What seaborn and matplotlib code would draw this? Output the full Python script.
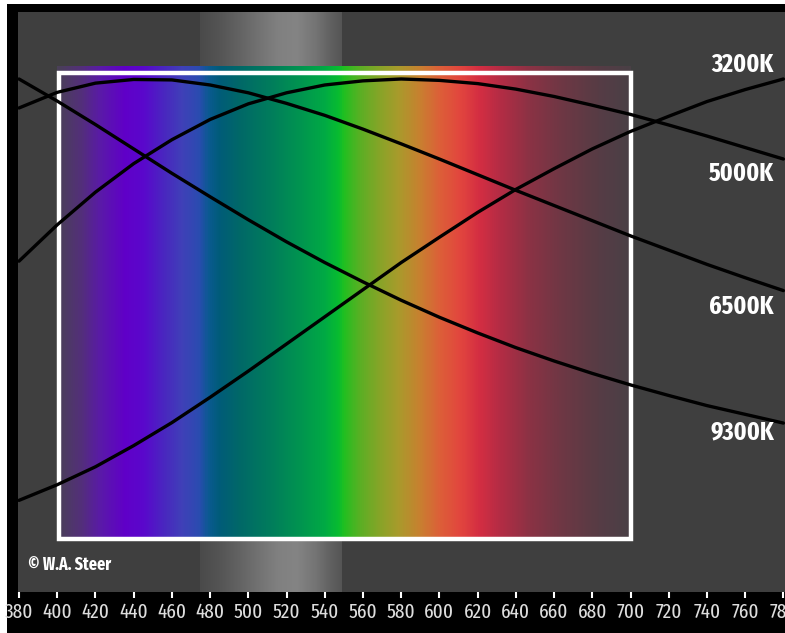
import numpy as np
import pandas as pd
import matplotlib
matplotlib.use("Agg")
import matplotlib.pyplot as plt
from matplotlib.colors import LinearSegmentedColormap
from matplotlib.patches import Rectangle
from matplotlib import font_manager
from matplotlib.font_manager import FontProperties
import seaborn as sns

# ---------------- data ----------------
wavelength_nm = [380, 400, 420, 440, 460, 480, 500, 520, 540, 560, 580,
                 600, 620, 640, 660, 680, 700, 720, 740, 760, 780]
k3200 = [0.084, 0.118, 0.157, 0.203, 0.253, 0.308, 0.365, 0.424, 0.483, 0.542, 0.601,
         0.656, 0.710, 0.760, 0.805, 0.848, 0.886, 0.919, 0.951, 0.977, 1.000]
k5000 = [0.604, 0.683, 0.754, 0.816, 0.868, 0.912, 0.946, 0.970, 0.987, 0.996, 1.000,
         0.997, 0.990, 0.978, 0.962, 0.943, 0.923, 0.900, 0.876, 0.851, 0.826]
k6500 = [0.937, 0.971, 0.991, 0.999, 0.998, 0.987, 0.970, 0.947, 0.921, 0.891, 0.859,
         0.826, 0.792, 0.758, 0.725, 0.692, 0.659, 0.628, 0.597, 0.568, 0.540]
k9300 = [1.000, 0.952, 0.901, 0.848, 0.795, 0.744, 0.694, 0.646, 0.601, 0.559, 0.519,
         0.482, 0.448, 0.416, 0.387, 0.360, 0.335, 0.312, 0.290, 0.271, 0.252]
curve_labels = ["3200K", "5000K", "6500K", "9300K"]
label_levels = [1.030, 0.793, 0.504, 0.233]
tick_values = list(range(380, 781, 20))
credit = "\u00a9 W.A. Steer"

# spectrum colour stops (nm, colour)
spectrum_nm = [400, 412, 422, 435, 445, 455, 465, 474, 479, 485, 495, 511, 527,
               540, 547, 550, 558, 569, 579, 590, 600, 611, 621, 632, 647, 663, 684, 700]
spectrum_hex = ["#4a4058", "#532f7a", "#5a1aa8", "#6000c8", "#5a08cc", "#4a25c0",
                "#4040b8", "#2a4cb0", "#0a5a90", "#005c78", "#006868", "#007c5c",
                "#009450", "#00aa44", "#08bc30", "#20c020", "#58b024", "#88a428",
                "#aa9a2c", "#c88030", "#dc6038", "#e2463e", "#d42e42", "#b42c45",
                "#8c3244", "#703744", "#563c45", "#4a4046"]
# grey band behind the spectrum
band_nm = [474.5, 485, 495, 505, 515, 525, 535, 543, 548.5]
band_hex = ["#4a4a4a", "#555555", "#636363", "#727272", "#808080",
            "#848484", "#747474", "#606060", "#555555"]

# ---------------- style ----------------
sns.set_style("dark", rc={"axes.facecolor": "#3f3f3f", "figure.facecolor": "white"})
plt.rcParams["font.family"] = ["Liberation Sans", "DejaVu Sans"]


def cond_score(f):
    nm = f.name.lower().replace(" ", "")
    st = str(f.stretch).lower()
    if "ultracondensed" in nm or "extracondensed" in nm or st in ("extra-condensed", "ultra-condensed"):
        return 3
    if "semicondensed" in nm or st == "semi-condensed":
        return 1
    if "condensed" in nm or "narrow" in nm or st == "condensed":
        return 2
    return 0


def find_font(bold, prefer):
    want = 700 if bold else 400
    best, best_rank = None, None
    for f in font_manager.fontManager.ttflist:
        nm = f.name.lower()
        if "mono" in nm or "serif" in nm.replace("sans serif", "") or f.style != "normal":
            continue
        w = f.weight
        if isinstance(w, str):
            w = {"bold": 700, "normal": 400, "regular": 400, "book": 400}.get(w.lower(), 500)
        if abs(int(w) - want) >= 100:
            continue
        s = cond_score(f)
        if s == 0:
            continue
        rank = prefer.index(s) if s in prefer else 9
        if best_rank is None or rank < best_rank:
            best, best_rank = f.fname, rank
    return best


tick_path = find_font(False, [3, 2, 1])
lab_path = find_font(True, [3, 2, 1])
fallback = ["Liberation Sans", "DejaVu Sans"]
tick_fp = FontProperties(fname=tick_path, size=15) if tick_path else \
    FontProperties(family=fallback, size=11)
lab_fp = FontProperties(fname=lab_path, size=18.5) if lab_path else \
    FontProperties(family=fallback, size=15, weight="bold")
cred_fp = FontProperties(fname=lab_path, size=12.5) if lab_path else \
    FontProperties(family=fallback, size=10, weight="bold")

W, H = 785, 633
fig = plt.figure(figsize=(W / 100, H / 100), dpi=100, facecolor="white")
fig.add_artist(Rectangle((7 / W, 0), 1, (H - 4) / H, transform=fig.transFigure,
                         facecolor="black", edgecolor="none", zorder=-10))
ax = fig.add_axes([18 / W, 41 / H, (W - 18) / W, 580 / H])
ax.set_facecolor("#3f3f3f")

ppn = 1.911  # pixels per nm
x0 = 380 + (18 - 19) / ppn
x1 = 380 + (785 - 19) / ppn
y0 = (539 - 592) / 460
y1 = (539 - 12) / 460


def stops(nm, hx):
    lo, hi = nm[0], nm[-1]
    return [((v - lo) / (hi - lo), c) for v, c in zip(nm, hx)]


# grey band
band_cmap = LinearSegmentedColormap.from_list("band", stops(band_nm, band_hex))
ax.imshow(np.linspace(0, 1, 400)[None, :], cmap=band_cmap, aspect="auto",
          extent=[band_nm[0], band_nm[-1], y0, y1], interpolation="bilinear", zorder=0.5)

# spectrum
spec_cmap = LinearSegmentedColormap.from_list("spec", stops(spectrum_nm, spectrum_hex))
ax.imshow(np.linspace(0, 1, 800)[None, :], cmap=spec_cmap, aspect="auto",
          extent=[spectrum_nm[0], spectrum_nm[-1], 0, 1.028], interpolation="bilinear", zorder=1)
ax.add_patch(Rectangle((401, 0), 299, 1.012, facecolor="none", edgecolor="white",
                       lw=3.2, zorder=3))

# curves
df = pd.DataFrame({
    "nm": wavelength_nm * 4,
    "value": k3200 + k5000 + k6500 + k9300,
    "curve": sum([[lab] * len(wavelength_nm) for lab in curve_labels], []),
})
sns.lineplot(data=df, x="nm", y="value", hue="curve", palette={l: "black" for l in curve_labels},
             legend=False, lw=2.4, ax=ax, zorder=5, estimator=None, sort=False)

for lab, lev in zip(curve_labels, label_levels):
    ax.text(380 + (774 - 19) / ppn, lev, lab, ha="right", va="center", color="white",
            fontproperties=lab_fp, zorder=6)
ax.text(380 + (28 - 19) / ppn, (539 - 565) / 460, credit, ha="left", va="center",
        color="white", fontproperties=cred_fp, zorder=6)

ax.set_xlim(x0, x1)
ax.set_ylim(y0, y1)
ax.set_xticks(tick_values)
ax.set_xticklabels([str(t) for t in tick_values])
for t in ax.get_xticklabels():
    t.set_fontproperties(tick_fp)
ax.set_yticks([])
ax.tick_params(axis="x", direction="out", length=4.5, width=1.5, color="white",
               labelcolor="#dddddd", pad=3, bottom=True)
ax.set_xlabel("")
ax.set_ylabel("")
for s in ax.spines.values():
    s.set_visible(False)
ax.grid(False)

fig.savefig("out.png", dpi=100)
